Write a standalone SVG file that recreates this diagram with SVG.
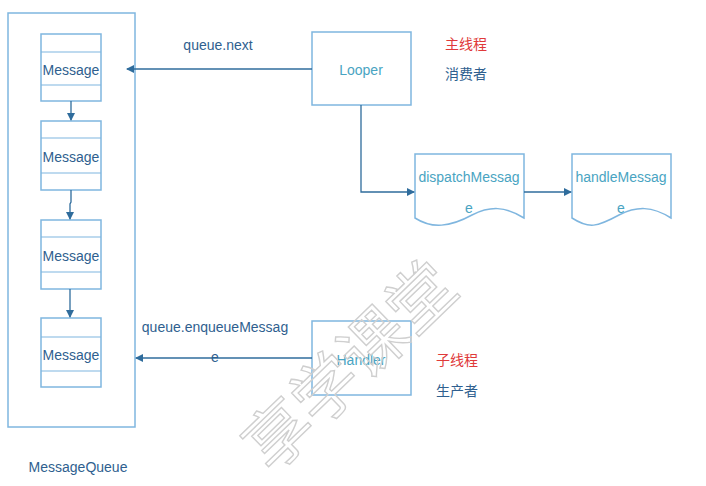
<svg xmlns="http://www.w3.org/2000/svg" width="706" height="486" viewBox="0 0 706 486">
<defs>
<marker id="arr" markerWidth="8" markerHeight="8" refX="7" refY="4" orient="auto" markerUnits="userSpaceOnUse">
<path d="M0,0 L8,4 L0,8 Z" fill="#2f6c9c"/>
</marker>
<style>
.box{fill:#fff;stroke:#7fb6df;stroke-width:1.5}
.div{stroke:#7fb6df;stroke-width:1.2;fill:none}
.con{stroke:#2f6c9c;stroke-width:1.3;fill:none}
.t{font-family:"Liberation Sans","Noto Sans",sans-serif;font-size:14px;fill:#2f5f8f;text-anchor:middle;dominant-baseline:central}
.tt{font-family:"Liberation Sans","Noto Sans",sans-serif;font-size:14px;fill:#49a4c2;text-anchor:middle;dominant-baseline:central}
.red{font-family:"Noto Sans CJK SC",sans-serif;font-size:14px;fill:#e03a3a;dominant-baseline:central}
.blu{font-family:"Noto Sans CJK SC",sans-serif;font-size:14px;fill:#2f5f8f;dominant-baseline:central}
.wm{font-family:"Noto Sans CJK SC",sans-serif;font-size:66px;fill:none;stroke:#cfcfcf;stroke-width:1.4}
</style>
</defs>
<rect width="706" height="486" fill="#fff"/>
<g id="messagequeue">
<rect class="box" x="8" y="13" width="127" height="414"/>
<text class="t" x="78" y="467">MessageQueue</text>
</g>
<g id="msg1"><rect class="box" x="41" y="34" width="60" height="67"/><path class="div" d="M41,52H101M41,85H101"/><text class="t" x="71" y="70">Message</text></g>
<g id="msg2"><rect class="box" x="41" y="121" width="60" height="69"/><path class="div" d="M41,138H101M41,173H101"/><text class="t" x="71" y="157">Message</text></g>
<g id="msg3"><rect class="box" x="41" y="220" width="60" height="69"/><path class="div" d="M41,237H101M41,272H101"/><text class="t" x="71" y="256">Message</text></g>
<g id="msg4"><rect class="box" x="41" y="318" width="60" height="69"/><path class="div" d="M41,337H101M41,371H101"/><text class="t" x="71" y="355">Message</text></g>
<g id="looper"><rect class="box" x="312" y="32" width="99" height="73"/><text class="tt" x="361" y="70">Looper</text></g>
<g id="handler"><rect class="box" x="312" y="321" width="99" height="74"/><text class="tt" x="361" y="360">Handler</text></g>
<g id="dispatch"><path class="box" d="M415,154H524V218C505,206 490,206 472,215C450,227 432,229 415,218Z"/><text class="tt" x="469" y="177">dispatchMessag</text><text class="tt" x="469" y="208">e</text></g>
<g id="handle"><path class="box" d="M572,154H671V218C652,206 637,206 619,215C597,227 589,229 572,218Z"/><text class="tt" x="621" y="177">handleMessag</text><text class="tt" x="621" y="208">e</text></g>
<g id="labels">
<text class="red" x="445" y="43">主线程</text>
<text class="blu" x="445" y="73">消费者</text>
<text class="red" x="436" y="359">子线程</text>
<text class="blu" x="436" y="390">生产者</text>
</g>
<g id="connectors">
<path class="con" d="M71,101V120" marker-end="url(#arr)"/>
<path class="con" d="M71,190V202L70,204V219" marker-end="url(#arr)"/>
<path class="con" d="M70,289V317" marker-end="url(#arr)"/>
<path class="con" d="M312,69H127" marker-end="url(#arr)"/>
<text class="t" x="218" y="45">queue.next</text>
<path class="con" d="M361,105V192H414" marker-end="url(#arr)"/>
<path class="con" d="M524,192H571" marker-end="url(#arr)"/>
<path class="con" d="M312,358H136" marker-end="url(#arr)"/>
<text class="t" x="215" y="327">queue.enqueueMessag</text>
<text class="t" x="215" y="357">e</text>
</g>
<g id="watermark"><text class="wm" x="346" y="362" transform="rotate(-44 346 362)" text-anchor="middle" dominant-baseline="central">享学课堂</text></g>
</svg>
